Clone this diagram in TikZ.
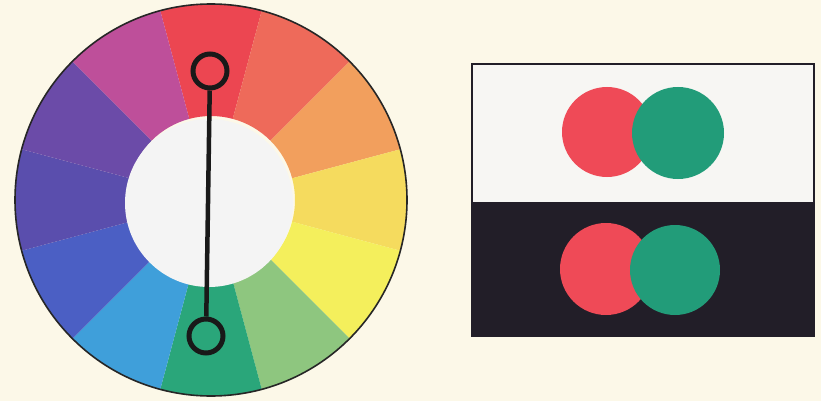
\documentclass[tikz,border=0pt]{standalone}
\usetikzlibrary{calc}
\definecolor{bg}{HTML}{FCF8E8}
\definecolor{c0}{HTML}{EC4651}
\definecolor{c1}{HTML}{EE6A5A}
\definecolor{c2}{HTML}{F29F5D}
\definecolor{c3}{HTML}{F5DB5E}
\definecolor{c4}{HTML}{F4EF5C}
\definecolor{c5}{HTML}{8EC67F}
\definecolor{c6}{HTML}{2AA67A}
\definecolor{c7}{HTML}{3F9FDA}
\definecolor{c8}{HTML}{4B5FC4}
\definecolor{c9}{HTML}{5A4EAD}
\definecolor{c10}{HTML}{6B4BA8}
\definecolor{c11}{HTML}{BE4F9A}
\definecolor{inwhite}{HTML}{F4F4F4}
\definecolor{panelwhite}{HTML}{F7F6F3}
\definecolor{panelblack}{HTML}{221E28}
\definecolor{pred}{HTML}{EF4A57}
\definecolor{pgreen}{HTML}{229C79}
\tikzset{
  ring/.style={circle,draw=black!90,line width=5pt,minimum size=34pt,inner sep=0pt},
  bar/.style={draw=black!90,line width=4.5pt},
}
\begin{document}
\begin{tikzpicture}[x=1pt,y=1pt]
\fill[bg] (0,0) rectangle (821,-401);
\useasboundingbox (0,0) rectangle (821,-401);
% colour wheel
\coordinate (wc) at (211,-200);
\foreach \i/\col in {0/c0,1/c1,2/c2,3/c3,4/c4,5/c5,6/c6,7/c7,8/c8,9/c9,10/c10,11/c11}{
  \pgfmathsetmacro{\a}{105-30*\i}
  \pgfmathsetmacro{\b}{75-30*\i}
  \fill[\col] ($(wc)+(\a:196)$) arc[start angle=\a,end angle=\b,radius=196]
     -- ($(wc)+(\b:84)$) arc[start angle=\b,end angle=\a,radius=84] -- cycle;
}
\draw[black!85,line width=1.6pt] (wc) circle[radius=196];
\fill[inwhite] (209,-203) circle[radius=84];
\node[ring] (top) at (210,-71) {};
\node[ring] (bot) at (206,-336) {};
\draw[bar] (top) -- (bot);
% panel
\fill[panelwhite] (472,-64) rectangle (814,-202);
\fill[panelblack] (471,-202) rectangle (814,-336);
\draw[panelblack,line width=1.5pt] (472,-64) rectangle (814,-336);
\fill[pred] (607,-132) circle[radius=45];
\fill[pgreen] (678,-133) circle[radius=46];
\fill[pred] (606,-269) circle[radius=46];
\fill[pgreen] (675,-270) circle[radius=45];
\end{tikzpicture}
\end{document}
